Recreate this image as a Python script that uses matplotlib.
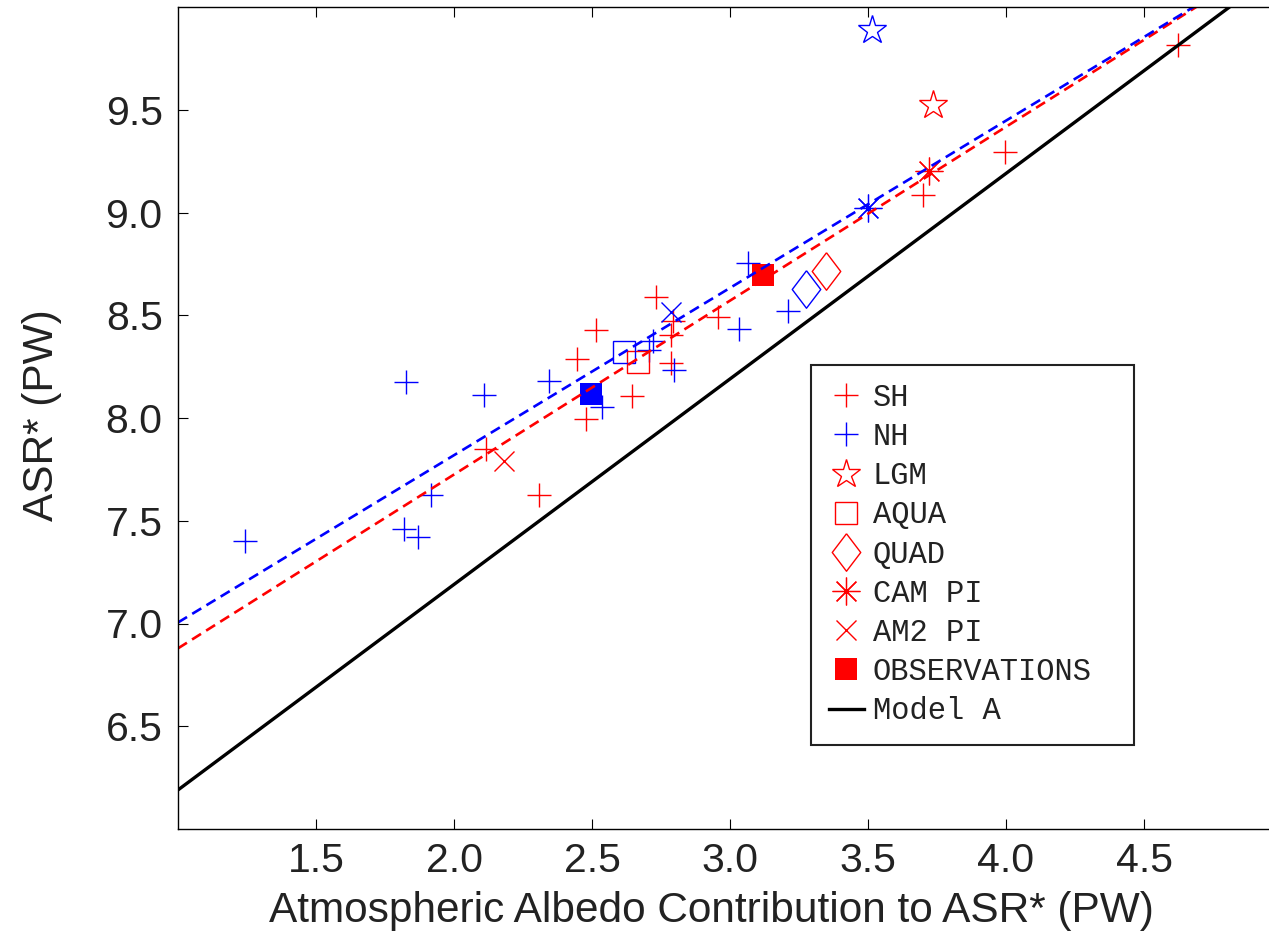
import numpy as np
import matplotlib.pyplot as plt
from matplotlib.lines import Line2D

# SH / NH points (red / blue plus)
sh_x = [2.116, 2.308, 2.446, 2.478, 2.513, 2.644, 2.731, 2.795, 2.785, 2.788, 2.958, 3.698, 3.996, 4.622]
sh_y = [7.850, 7.626, 8.286, 7.995, 8.430, 8.109, 8.587, 8.470, 8.405, 8.268, 8.490, 9.085, 9.296, 9.814]
nh_x = [1.242, 1.825, 1.818, 1.870, 1.917, 2.108, 2.343, 2.535, 2.722, 2.707, 2.798, 3.031, 3.064, 3.211]
nh_y = [7.403, 8.176, 7.461, 7.419, 7.626, 8.112, 8.180, 8.055, 8.376, 8.330, 8.233, 8.433, 8.754, 8.522]

# experiments: [SH value, NH value]
lgm_x, lgm_y = [3.737, 3.516], [9.525, 9.886]
aqua_x, aqua_y = [2.668, 2.617], [8.272, 8.320]
quad_x, quad_y = [3.348, 3.275], [8.716, 8.628]
cam_x, cam_y = [3.722, 3.499], [9.200, 9.021]
am2_x, am2_y = [2.181, 2.786], [7.790, 8.516]
obs_x, obs_y = [3.121, 2.495], [8.694, 8.118]

# lines: slope, intercept
model_a = (1.0, 5.19)
sh_fit = (0.846, 6.033)
nh_fit = (0.814, 6.191)

labels = ['SH', 'NH', 'LGM', 'AQUA', 'QUAD', 'CAM PI', 'AM2 PI', 'OBSERVATIONS', 'Model A']

RED, BLUE = (1, 0, 0), (0, 0, 1)
diamond = [(0, 1), (0.76, 0), (0, -1), (-0.76, 0), (0, 1)]
asterisk = (8, 2, 0)

plt.rcParams['font.family'] = ['Liberation Sans', 'DejaVu Sans']

fig = plt.figure(figsize=(12.69, 9.35), dpi=100)
ax = fig.add_axes([178 / 1269, 106 / 935, 1104 / 1269, 822 / 935])

mew = 1.0
ax.plot(sh_x, sh_y, ls='none', marker='+', ms=17, mew=mew, color=RED)
ax.plot(nh_x, nh_y, ls='none', marker='+', ms=17, mew=mew, color=BLUE)

for i, c in enumerate([RED, BLUE]):
    ax.plot(lgm_x[i], lgm_y[i], ls='none', marker='*', ms=21, mew=mew, mec=c, mfc='none')
    ax.plot(aqua_x[i], aqua_y[i], ls='none', marker='s', ms=16, mew=mew, mec=c, mfc='none')
    ax.plot(quad_x[i], quad_y[i], ls='none', marker=diamond, ms=27, mew=mew, mec=c, mfc='none')
    ax.plot(cam_x[i], cam_y[i], ls='none', marker=asterisk, ms=20, mew=0.9, mec=c)
    ax.plot(cam_x[i], cam_y[i], ls='none', marker='o', ms=2.5, mew=0, mfc=c)
    ax.plot(am2_x[i], am2_y[i], ls='none', marker='x', ms=14.5, mew=mew, mec=c)
    ax.plot(obs_x[i], obs_y[i], ls='none', marker='s', ms=16.5, mew=0, mfc=c)

xx = np.array([1.0, 5.0])
ax.plot(xx, model_a[0] * xx + model_a[1], color='black', lw=2.4)
ax.plot(xx, sh_fit[0] * xx + sh_fit[1], color=RED, lw=1.9, dashes=(4.0, 2.3))
ax.plot(xx, nh_fit[0] * xx + nh_fit[1], color=BLUE, lw=1.9, dashes=(4.0, 2.3))

ax.set_xlim(1.0, 5.0)
ax.set_ylim(6.0, 10.0)
ax.set_xticks([1.5, 2.0, 2.5, 3.0, 3.5, 4.0, 4.5])
ax.set_yticks([6.5, 7.0, 7.5, 8.0, 8.5, 9.0, 9.5])
ax.xaxis.set_major_formatter(plt.FormatStrFormatter('%.1f'))
ax.yaxis.set_major_formatter(plt.FormatStrFormatter('%.1f'))
ax.tick_params(direction='in', length=7, width=0.8, top=True, right=True,
               labelsize=29.5, labelcolor='#222222', pad=11)
ax.tick_params(axis='x', pad=9)
for s in ax.spines.values():
    s.set_linewidth(1.0)

ax.set_xlabel('Atmospheric Albedo Contribution to ASR* (PW)', fontsize=30.5, color='#222222')
ax.set_ylabel('ASR* (PW)', fontsize=30.5, color='#222222')
ax.xaxis.set_label_coords(0.483, -0.076)
ax.yaxis.set_label_coords(-0.105, 0.504)

handles = [
    Line2D([], [], ls='none', marker='+', ms=17, mew=mew, color=RED),
    Line2D([], [], ls='none', marker='+', ms=17, mew=mew, color=BLUE),
    Line2D([], [], ls='none', marker='*', ms=21, mew=mew, mec=RED, mfc='none'),
    Line2D([], [], ls='none', marker='s', ms=16, mew=mew, mec=RED, mfc='none'),
    Line2D([], [], ls='none', marker=diamond, ms=27, mew=mew, mec=RED, mfc='none'),
    Line2D([], [], ls='none', marker=asterisk, ms=20, mew=0.9, mec=RED),
    Line2D([], [], ls='none', marker='x', ms=14.5, mew=mew, mec=RED),
    Line2D([], [], ls='none', marker='s', ms=16.5, mew=0, mfc=RED),
    Line2D([], [], color='black', lw=2.4),
]
leg = ax.legend(handles, labels, loc='upper left', bbox_to_anchor=(0.573, 0.565, 0.2926, 0.0),
                mode='expand', prop={'family': 'Liberation Mono', 'size': 22}, frameon=True,
                fancybox=False, edgecolor='#222222', framealpha=1, handlelength=1.15,
                handletextpad=0.28, labelspacing=0.30, borderpad=0.6, borderaxespad=0)
leg.get_frame().set_linewidth(1.5)
for t in leg.get_texts():
    t.set_color('#222222')

fig.savefig('out.png', dpi=100)
